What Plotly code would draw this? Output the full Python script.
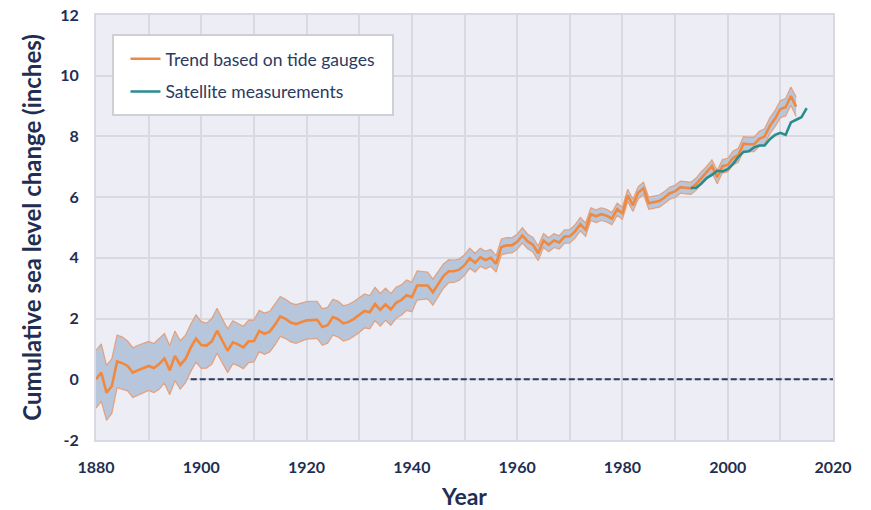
import plotly.graph_objects as go

# ---- data (inches) ----
years = list(range(1880, 2014))
tide_gauge = [
    0.00, 0.22, -0.44, -0.23, 0.59, 0.53, 0.44, 0.22, 0.30, 0.36,
    0.44, 0.37, 0.50, 0.69, 0.30, 0.77, 0.47, 0.67, 1.04, 1.34,
    1.13, 1.11, 1.25, 1.60, 1.26, 0.94, 1.22, 1.15, 1.05, 1.25,
    1.26, 1.59, 1.50, 1.57, 1.80, 2.07, 1.99, 1.87, 1.82, 1.87,
    1.94, 1.95, 1.96, 1.72, 1.78, 2.05, 1.98, 1.84, 1.89, 1.99,
    2.11, 2.25, 2.21, 2.48, 2.29, 2.47, 2.30, 2.52, 2.61, 2.77,
    2.71, 3.09, 3.09, 3.09, 2.87, 3.14, 3.40, 3.56, 3.56, 3.61,
    3.76, 3.99, 3.84, 4.02, 3.93, 4.00, 3.80, 4.36, 4.41, 4.41,
    4.53, 4.74, 4.54, 4.43, 4.15, 4.57, 4.43, 4.57, 4.51, 4.70,
    4.71, 4.87, 5.11, 4.93, 5.44, 5.37, 5.44, 5.39, 5.29, 5.60,
    5.47, 6.06, 5.73, 6.15, 6.29, 5.80, 5.83, 5.87, 5.99, 6.13,
    6.19, 6.33, 6.31, 6.29, 6.43, 6.63, 6.80, 7.02, 6.66, 7.02,
    7.06, 7.29, 7.38, 7.76, 7.74, 7.74, 7.92, 8.00, 8.35, 8.59,
    8.90, 8.96, 9.33, 8.98,
]
lower_bound = [
    -0.95, -0.73, -1.35, -1.13, -0.28, -0.33, -0.38, -0.60, -0.52, -0.46,
    -0.37, -0.44, -0.33, -0.13, -0.51, -0.05, -0.33, -0.11, 0.26, 0.56,
    0.36, 0.37, 0.50, 0.86, 0.53, 0.22, 0.51, 0.45, 0.35, 0.55,
    0.57, 0.91, 0.82, 0.90, 1.13, 1.41, 1.34, 1.23, 1.18, 1.24,
    1.32, 1.33, 1.35, 1.12, 1.19, 1.46, 1.39, 1.26, 1.31, 1.42,
    1.54, 1.69, 1.66, 1.93, 1.75, 1.94, 1.78, 2.01, 2.11, 2.27,
    2.22, 2.61, 2.63, 2.65, 2.44, 2.73, 3.00, 3.18, 3.19, 3.26,
    3.42, 3.66, 3.53, 3.72, 3.64, 3.72, 3.53, 4.10, 4.15, 4.16,
    4.28, 4.49, 4.30, 4.19, 3.91, 4.34, 4.20, 4.34, 4.29, 4.48,
    4.49, 4.65, 4.89, 4.71, 5.23, 5.16, 5.23, 5.18, 5.09, 5.40,
    5.27, 5.86, 5.53, 5.95, 6.09, 5.60, 5.63, 5.67, 5.79, 5.93,
    5.99, 6.13, 6.11, 6.09, 6.23, 6.42, 6.59, 6.81, 6.44, 6.80,
    6.84, 7.07, 7.15, 7.53, 7.50, 7.50, 7.67, 7.75, 8.09, 8.32,
    8.62, 8.67, 9.03, 8.66,
]
upper_bound = [
    0.95, 1.17, 0.46, 0.67, 1.46, 1.39, 1.26, 1.04, 1.12, 1.18,
    1.25, 1.18, 1.33, 1.51, 1.11, 1.59, 1.27, 1.45, 1.82, 2.12,
    1.90, 1.85, 2.00, 2.34, 1.99, 1.66, 1.93, 1.85, 1.75, 1.95,
    1.95, 2.27, 2.18, 2.24, 2.47, 2.73, 2.64, 2.51, 2.46, 2.50,
    2.56, 2.57, 2.57, 2.32, 2.37, 2.64, 2.57, 2.42, 2.47, 2.56,
    2.68, 2.81, 2.76, 3.03, 2.83, 3.00, 2.82, 3.03, 3.11, 3.27,
    3.20, 3.57, 3.55, 3.53, 3.30, 3.55, 3.80, 3.94, 3.93, 3.96,
    4.10, 4.32, 4.15, 4.32, 4.22, 4.28, 4.07, 4.62, 4.67, 4.66,
    4.78, 4.99, 4.78, 4.67, 4.39, 4.80, 4.66, 4.80, 4.73, 4.92,
    4.93, 5.09, 5.33, 5.15, 5.65, 5.58, 5.65, 5.60, 5.49, 5.80,
    5.67, 6.26, 5.93, 6.35, 6.49, 6.00, 6.03, 6.07, 6.19, 6.33,
    6.39, 6.53, 6.51, 6.49, 6.63, 6.84, 7.01, 7.23, 6.88, 7.24,
    7.28, 7.51, 7.61, 7.99, 7.98, 7.98, 8.17, 8.25, 8.61, 8.86,
    9.18, 9.25, 9.63, 9.30,
]
sat_years = list(range(1993, 2016))
satellite = [
    6.30, 6.31, 6.45, 6.63, 6.73, 6.87, 6.85, 6.92, 7.09, 7.32,
    7.49, 7.51, 7.64, 7.70, 7.70, 7.91, 8.05, 8.12, 8.05, 8.46,
    8.55, 8.63, 8.93,
]
baseline_years = [1898, 2020]
baseline_values = [0, 0]

x_ticks = [1880, 1900, 1920, 1940, 1960, 1980, 2000, 2020]
y_ticks = [-2, 0, 2, 4, 6, 8, 10, 12]

NAVY = "#1f2e52"
ORANGE = "#f0893f"
TEAL = "#2b8c8e"
BAND = "#b7c6db"
BAND_EDGE = "rgba(232,150,105,0.85)"
GRID = "#d9d9e2"
FONT = "Lato"

fig = go.Figure()

fig.add_trace(go.Scatter(
    x=years, y=lower_bound, mode="lines",
    line=dict(color=BAND_EDGE, width=1.2),
    showlegend=False, hoverinfo="skip"))
fig.add_trace(go.Scatter(
    x=years, y=upper_bound, mode="lines", fill="tonexty", fillcolor=BAND,
    line=dict(color=BAND_EDGE, width=1.2),
    showlegend=False, hoverinfo="skip"))
fig.add_trace(go.Scatter(
    x=baseline_years, y=baseline_values, mode="lines",
    line=dict(color="#2e3b5c", width=2, dash="6px,3px"),
    showlegend=False, hoverinfo="skip"))
fig.add_trace(go.Scatter(
    x=years, y=tide_gauge, mode="lines", name="Trend based on tide gauges",
    line=dict(color=ORANGE, width=2.6), legendgroup="a"))
fig.add_trace(go.Scatter(
    x=sat_years, y=satellite, mode="lines", name="Satellite measurements",
    line=dict(color=TEAL, width=2.6), legendgroup="b"))

# legend frame
fig.add_shape(type="rect", xref="paper", yref="paper",
              x0=0.0231, x1=0.403, y0=0.765, y1=0.953,
              fillcolor="white", line=dict(color="#cfcfd6", width=2),
              layer="above")

fig.update_layout(
    width=871, height=510, autosize=False,
    margin=dict(l=96, r=38, t=15, b=70, autoexpand=False),
    paper_bgcolor="white", plot_bgcolor="#ededf5",
    font=dict(family=FONT, color=NAVY),
    legend=dict(x=0.040, y=0.939, xanchor="left", yanchor="top",
                bgcolor="rgba(0,0,0,0)", borderwidth=0,
                font=dict(family=FONT, size=17.5, color="#2a3b61"),
                itemwidth=30, tracegroupgap=7, traceorder="grouped"),
    showlegend=True,
)
fig.update_xaxes(
    range=[1880, 2020], tickvals=x_ticks, ticktext=[str(v) for v in x_ticks],
    showgrid=True, gridcolor=GRID, gridwidth=2,
    minor=dict(dtick=10, tick0=1880, showgrid=True, gridcolor=GRID, gridwidth=2),
    showline=True, mirror=True, linecolor=GRID, linewidth=2,
    zeroline=False, ticks="", ticklabelstandoff=12, automargin=True,
    tickfont=dict(family=FONT, size=16, color=NAVY, weight="bold"),
    title=dict(text="Year", standoff=14,
               font=dict(family=FONT, size=23, color=NAVY, weight="bold")),
)
fig.update_yaxes(
    range=[-2, 12], tickvals=y_ticks, ticktext=[str(v) for v in y_ticks],
    showgrid=True, gridcolor=GRID, gridwidth=2,
    showline=True, mirror=True, linecolor=GRID, linewidth=2,
    zeroline=False, ticks="", ticklabelstandoff=12, automargin=True,
    tickfont=dict(family=FONT, size=16, color=NAVY, weight="bold"),
    title=dict(text="Cumulative sea level change (inches)", standoff=12,
               font=dict(family=FONT, size=24, color=NAVY, weight="bold")),
)

fig.write_html("out.html", config={"displayModeBar": False},
               post_script="document.body.style.margin='0px';")
